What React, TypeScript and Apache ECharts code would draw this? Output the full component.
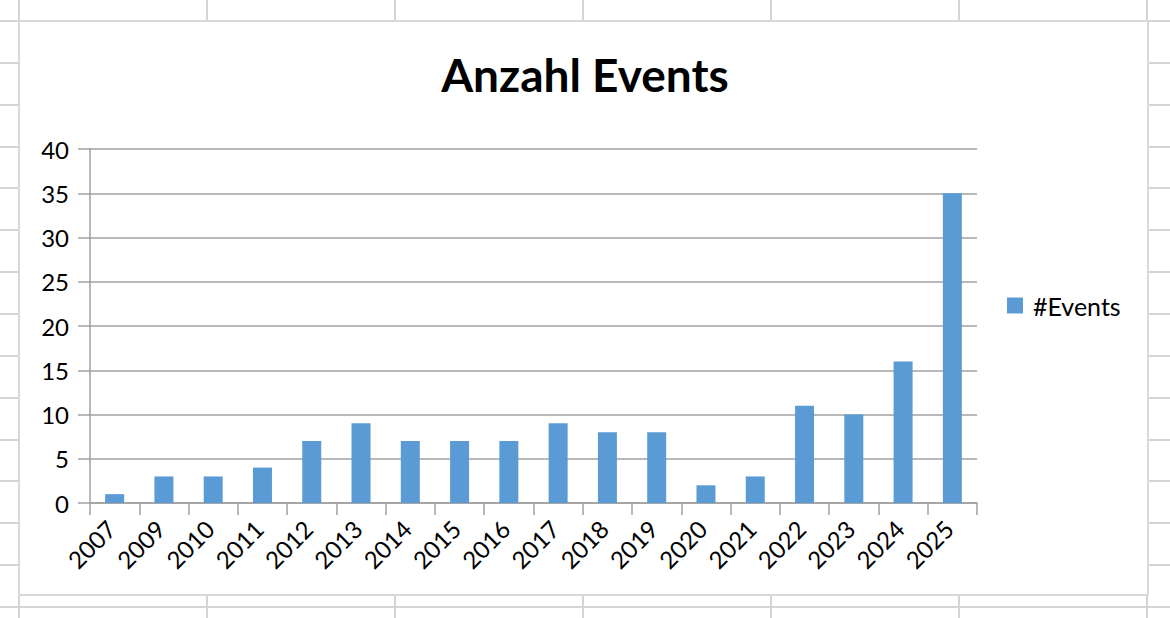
import React, { useEffect, useRef } from "react";
import * as echarts from "echarts";

const years = ["2007", "2009", "2010", "2011", "2012", "2013", "2014", "2015", "2016", "2017", "2018", "2019", "2020", "2021", "2022", "2023", "2024", "2025"];
const events = [1, 3, 3, 4, 7, 9, 7, 7, 7, 9, 8, 8, 2, 3, 11, 10, 16, 35];
const seriesName = "#Events";
const chartTitle = "Anzahl Events";

const W = 1170;
const H = 618;
const FONT = "Lato, 'Open Sans', sans-serif";

function sheetGraphics() {
  const els: any[] = [];
  const lineColor = "#d4d4d4";
  const colXs = [19, 207, 395, 583, 771, 959, 1147];
  for (const x of colXs) {
    els.push({ type: "line", z: -20, shape: { x1: x, y1: 0, x2: x, y2: H }, style: { stroke: lineColor, lineWidth: 2 } });
  }
  for (let k = 0; k < 15; k++) {
    const y = Math.round(21 + k * 41.86);
    els.push({ type: "line", z: -20, shape: { x1: 0, y1: y, x2: W, y2: y }, style: { stroke: lineColor, lineWidth: 2 } });
  }
  els.push({
    type: "rect",
    z: -10,
    shape: { x: 19, y: 21, width: 1129, height: 574 },
    style: { fill: "#ffffff", stroke: "#d9d9d9", lineWidth: 2 },
  });
  return els;
}

export default function App() {
  const ref = useRef<HTMLDivElement>(null);
  useEffect(() => {
    if (!ref.current) return;
    const chart = echarts.init(ref.current, null, { renderer: "svg" });
    chart.setOption({
      animation: false,
      backgroundColor: "#ffffff",
      textStyle: { fontFamily: FONT },
      title: {
        text: chartTitle,
        left: "center",
        top: 46,
        textStyle: { fontFamily: FONT, fontSize: 46, fontWeight: "bold", color: "#000" },
      },
      legend: {
        left: 1002,
        top: 288,
        orient: "vertical",
        icon: "rect",
        itemWidth: 16,
        itemHeight: 16,
        data: [seriesName],
        textStyle: { fontFamily: FONT, fontSize: 25, color: "#000", padding: [0, 0, 0, 5] },
      },
      grid: { left: 90, right: 193, top: 149, bottom: 115, containLabel: false },
      xAxis: {
        type: "category",
        data: years,
        axisLine: { show: true, lineStyle: { color: "#a0a0a0", width: 1.5 } },
        axisTick: { show: true, length: 12, alignWithLabel: false, lineStyle: { color: "#a0a0a0", width: 1.5 } },
        axisLabel: { rotate: 45, margin: 18, padding: [0, 5, 0, 0], fontSize: 24, color: "#000", fontFamily: FONT, interval: 0 },
        splitLine: { show: false },
      },
      yAxis: {
        type: "value",
        min: 0,
        max: 40,
        interval: 5,
        axisLine: { show: true, lineStyle: { color: "#a0a0a0", width: 1.5 } },
        axisTick: { show: true, length: 12, lineStyle: { color: "#a0a0a0", width: 1.5 } },
        axisLabel: { margin: 21, fontSize: 24, color: "#000", fontFamily: FONT },
        splitLine: { show: true, lineStyle: { color: "#a0a0a0", width: 1.5 } },
      },
      series: [
        {
          name: seriesName,
          type: "bar",
          data: events,
          barWidth: 19,
          itemStyle: { color: "#5b9bd5" },
        },
      ],
      graphic: sheetGraphics(),
    });
    return () => chart.dispose();
  }, []);
  return (
    <div
      ref={ref}
      style={{ position: "fixed", left: 0, top: 0, width: W, height: H }}
    />
  );
}
